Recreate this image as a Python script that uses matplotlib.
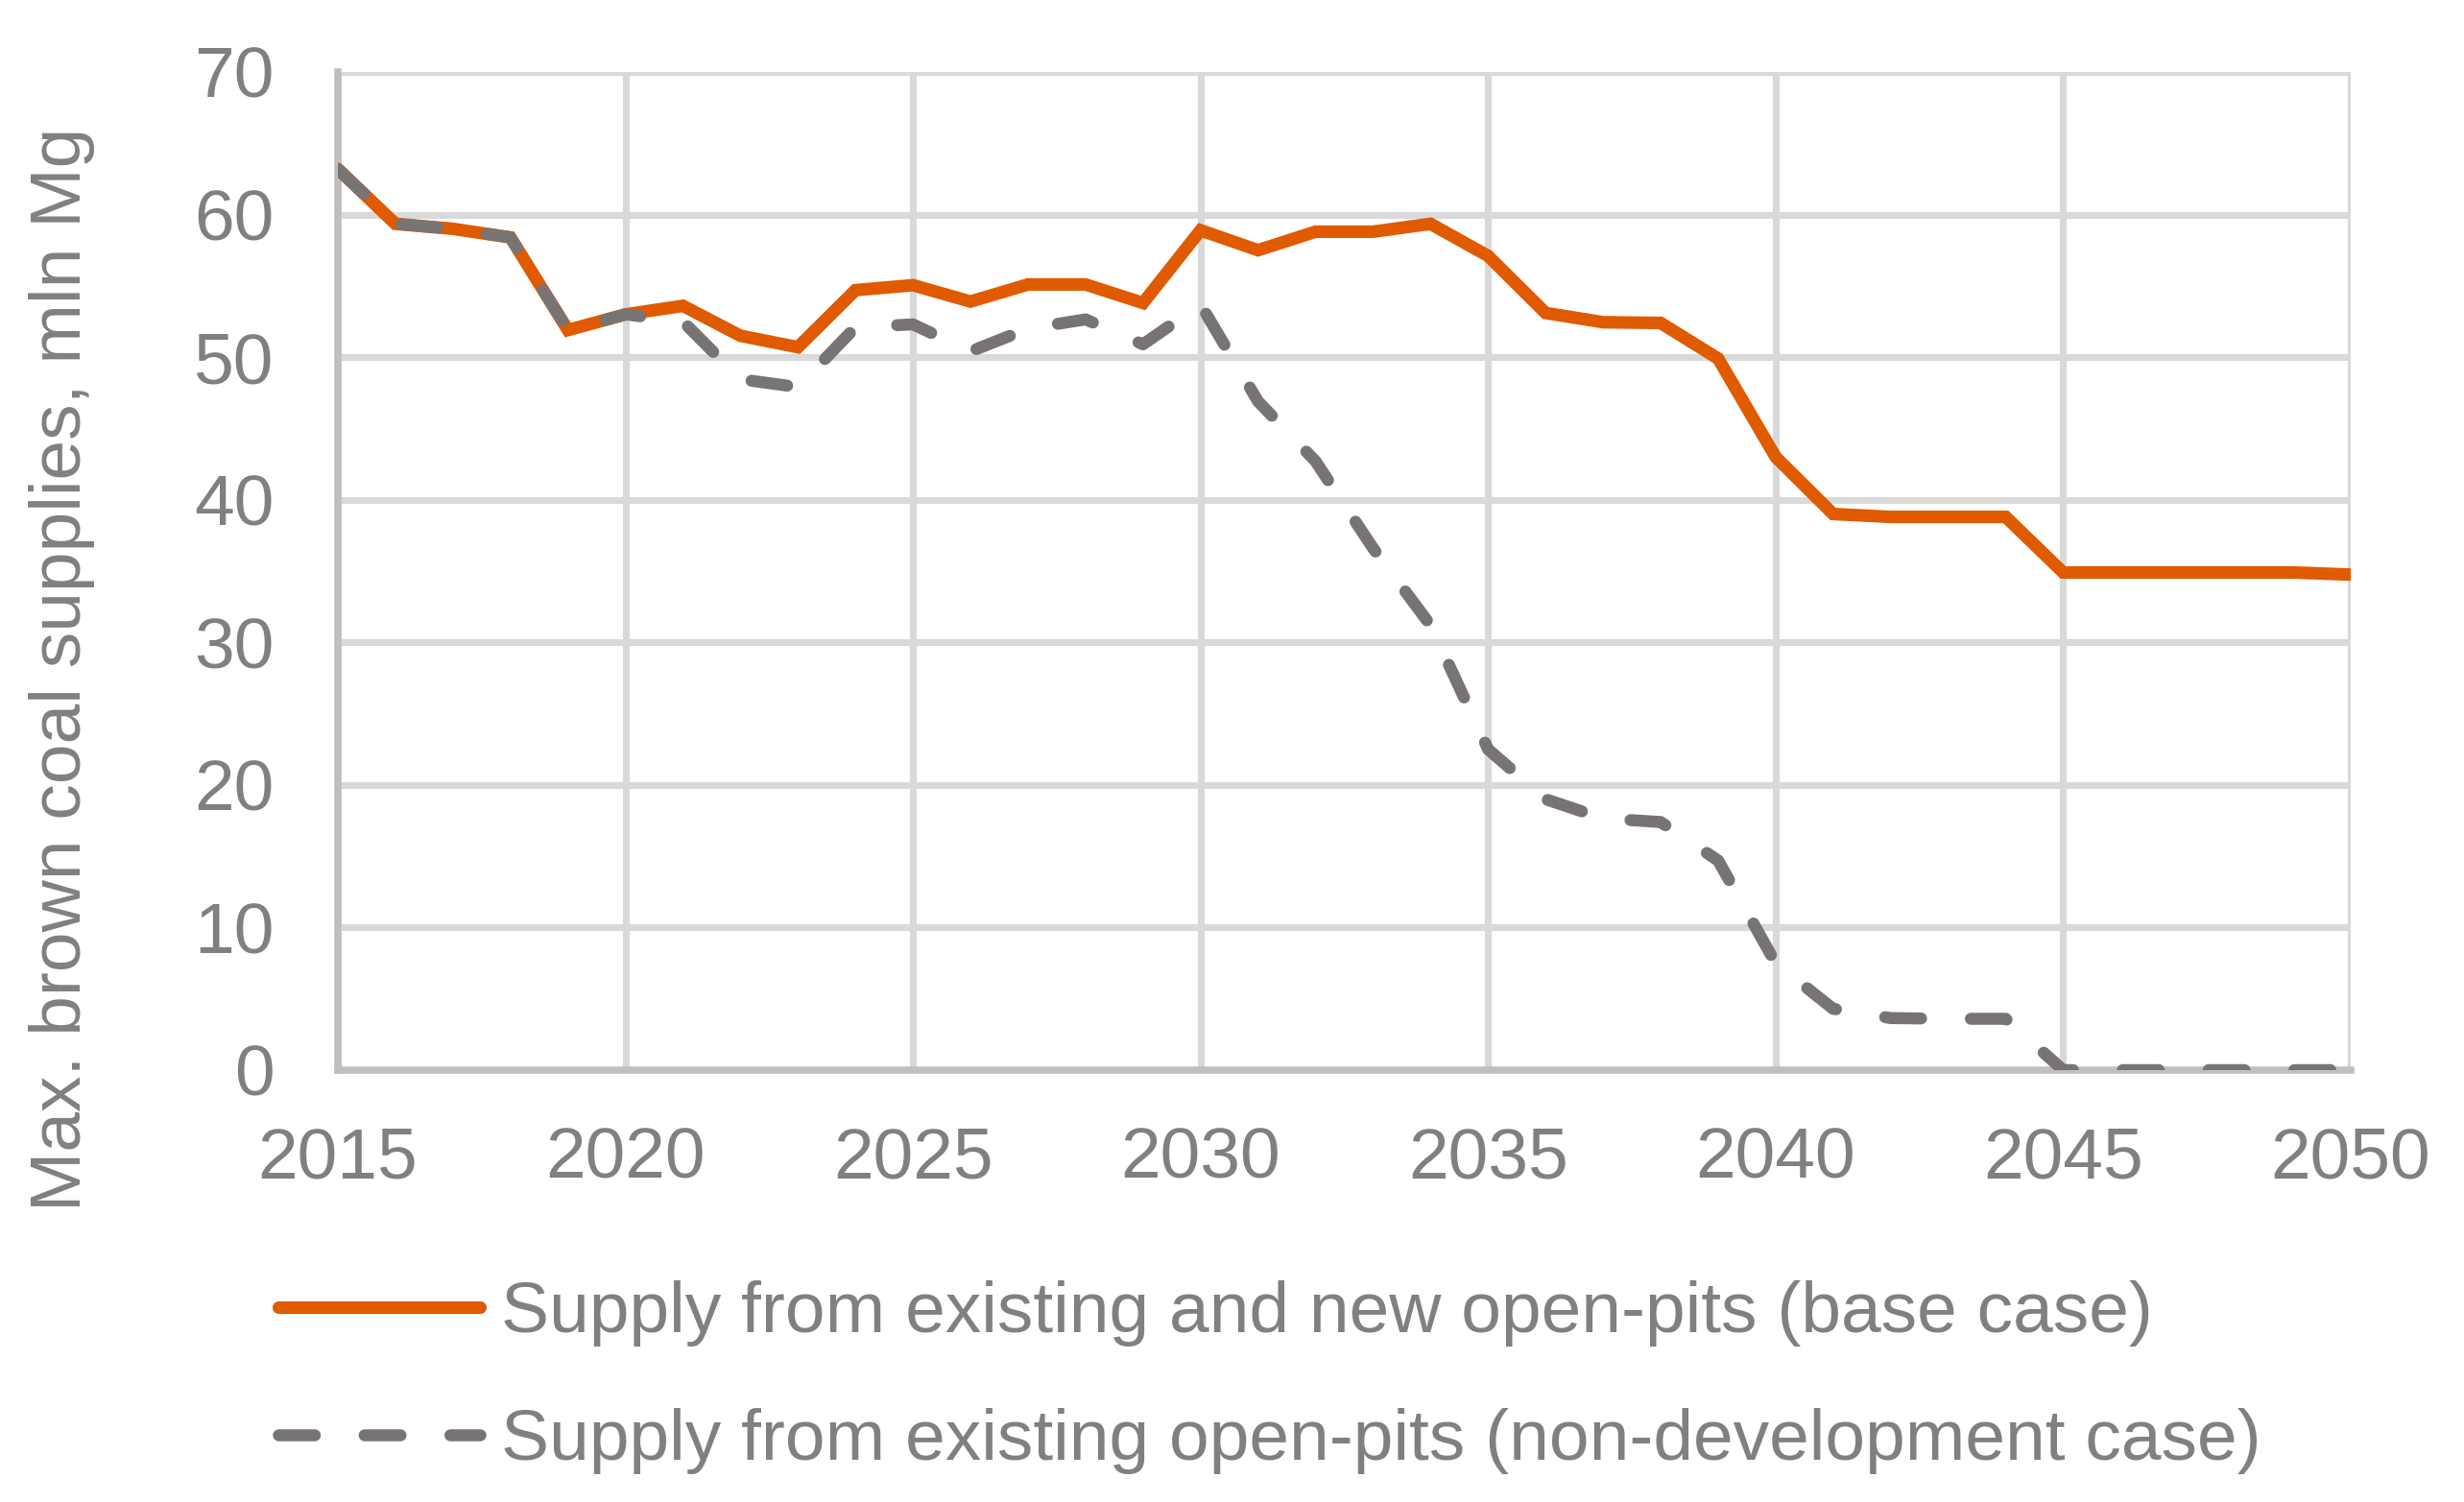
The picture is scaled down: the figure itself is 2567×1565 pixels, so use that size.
import matplotlib
matplotlib.use("Agg")
import matplotlib.pyplot as plt

# -----------------------
# Data
# -----------------------
years = list(range(2015, 2051))

base_case = [
    63.2, 59.35, 59.0, 58.4, 51.9, 53.0, 53.6, 51.5, 50.7, 54.7,
    55.05, 53.9, 55.1, 55.1, 53.8, 58.9, 57.5, 58.8, 58.8, 59.35,
    57.1, 53.1, 52.45, 52.4, 49.9, 43.0, 39.0, 38.8, 38.8, 38.8,
    34.9, 34.9, 34.9, 34.9, 34.9, 34.75,
]

non_development = [
    63.2, 59.35, 59.0, 58.4, 51.9, 53.0, 52.5, 48.45, 47.9, 52.1,
    52.3, 50.4, 52.0, 52.65, 50.9, 53.7, 46.9, 42.7, 36.6, 31.2,
    22.5, 19.0, 17.65, 17.4, 14.7, 7.5, 4.3, 3.65, 3.6, 3.6,
    0.0, 0.0, 0.0, 0.0, 0.0, 0.0,
]

labels = [
    "Supply from existing and new open-pits (base case)",
    "Supply from existing open-pits (non-development case)",
]

x_ticks = [2015, 2020, 2025, 2030, 2035, 2040, 2045, 2050]
y_ticks = [0, 10, 20, 30, 40, 50, 60, 70]

# -----------------------
# Style
# -----------------------
orange = "#E05A00"
gray_line = "#797474"
text = "#808080"
grid = "#D9D9D9"
spine = "#BFBFBF"

plt.rcParams.update({
    "font.family": ["Liberation Sans", "DejaVu Sans"],
    "font.size": 18,
})

fig = plt.figure(figsize=(2567 / 300, 1565 / 300), dpi=300)
ax = fig.add_axes([352 / 2567, 1 - 1115 / 1565, (2449 - 352) / 2567, (1115 - 75) / 1565])

ax.plot(years, base_case, color=orange, linewidth=3.15,
        solid_capstyle="round", solid_joinstyle="miter", label=labels[0], zorder=3)
ax.plot(years, non_development, color=gray_line, linewidth=3.0,
        dashes=(3.0, 4.15), dash_capstyle="round", dash_joinstyle="round",
        label=labels[1], zorder=4)

ax.set_xlim(2015, 2050)
ax.set_ylim(0, 70)
ax.set_xticks(x_ticks)
ax.set_yticks(y_ticks)

ax.grid(True, color=grid, linewidth=1.7)
ax.set_axisbelow(True)

for side in ["top", "right"]:
    ax.spines[side].set_visible(False)
for side in ["left", "bottom"]:
    ax.spines[side].set_color(spine)
    ax.spines[side].set_linewidth(1.8)
    ax.spines[side].set_zorder(2.5)

ax.tick_params(axis="both", length=0, colors=text, labelsize=18)
ax.tick_params(axis="y", pad=16)
ax.tick_params(axis="x", pad=14)

fig.text(65 / 2567, 1 - 697 / 1565, "Max. brown coal supplies, mln Mg",
         rotation=90, ha="center", va="center", color=text, fontsize=18)

# -----------------------
# Legend
# -----------------------
leg = fig.legend(
    loc="upper left",
    bbox_to_anchor=(290 / 2567, 1 - 1334 / 1565),
    frameon=False,
    borderpad=0,
    borderaxespad=0,
    handlelength=2.8,
    handletextpad=0.3,
    labelspacing=0.86,
    fontsize=18,
)
for t in leg.get_texts():
    t.set_color(text)

fig.savefig("out.png", dpi=300)
plt.close(fig)
